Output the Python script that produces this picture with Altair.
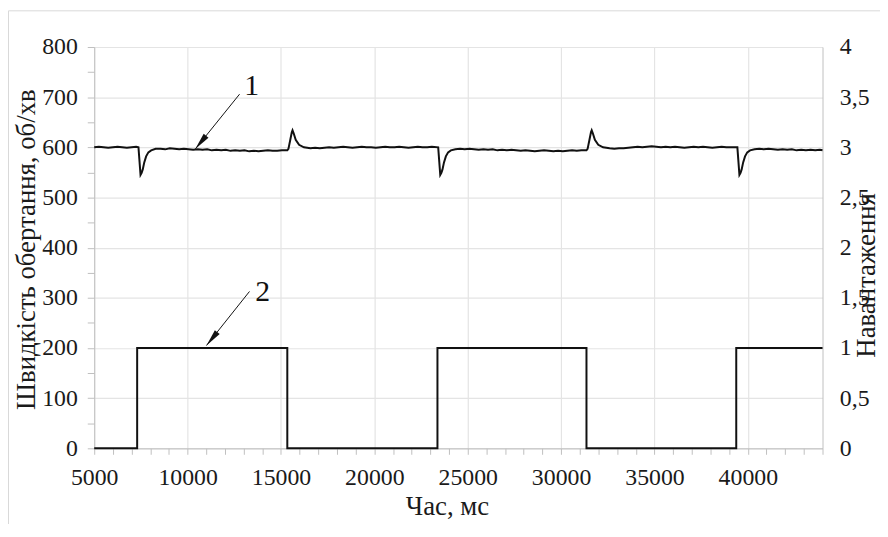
import altair as alt
import pandas as pd

# ---- speed curve (rpm) ----
speed_t = [
    5000, 5250, 5500, 5750, 6000, 6250, 6500, 6750, 7000, 7250, 7370,
    7420, 7480, 7540, 7600, 7680, 7780, 7900, 8050, 8290,
    8550, 8800, 9050, 9300, 9550, 9800, 10050, 10300, 10550, 10800, 11050, 11300,
    11550, 11800, 12050, 12300, 12550, 12800, 13050, 13300, 13550, 13800, 14050,
    14300, 14550, 14800, 15050, 15340,
    15400, 15500, 15580, 15620, 15680, 15790, 15970, 16230, 16580,
    16830, 17080, 17330, 17580, 17830, 18080, 18330, 18580, 18830, 19080, 19330,
    19580, 19830, 20080, 20330, 20580, 20830, 21080, 21330, 21580, 21830, 22080,
    22330, 22580, 22830, 23080, 23420,
    23470, 23530, 23590, 23650, 23730, 23830, 23950, 24100, 24340,
    24590, 24840, 25090, 25340, 25590, 25840, 26090, 26340, 26590, 26840, 27090,
    27340, 27590, 27840, 28090, 28340, 28590, 28840, 29090, 29340, 29590, 29840,
    30090, 30340, 30590, 30840, 31090, 31360,
    31420, 31520, 31600, 31640, 31700, 31810, 31990, 32250, 32600,
    32850, 33100, 33350, 33600, 33850, 34100, 34350, 34600, 34850, 35100, 35350,
    35600, 35850, 36100, 36350, 36600, 36850, 37100, 37350, 37600, 37850, 38100,
    38350, 38600, 38850, 39100, 39440,
    39490, 39550, 39610, 39670, 39750, 39850, 39970, 40120, 40360,
    40610, 40860, 41110, 41360, 41610, 41860, 42110, 42360, 42610, 42860, 43110,
    43360, 43610, 43860, 44000,
]
speed_v = [
    600, 601, 600, 599, 600, 601, 600, 599, 600, 601, 600,
    575, 545, 549, 556, 570, 582, 590, 594, 597,
    597, 596, 598, 597, 596, 597, 596, 595, 596, 595, 596, 594,
    595, 594, 595, 593, 594, 593, 594, 592, 593, 592, 593,
    594, 593, 593, 594, 594,
    597, 615, 630, 634, 628, 615, 605, 600, 598,
    599, 598, 599, 600, 599, 600, 601, 600, 599, 600, 601,
    600, 600, 599, 600, 601, 600, 600, 601, 600, 599, 600,
    601, 600, 600, 601, 600,
    575, 545, 549, 556, 570, 582, 590, 594, 596,
    597, 596, 597, 596, 595, 596, 595, 596, 594, 595, 594,
    595, 594, 593, 594, 593, 592, 593, 594, 593, 592, 593,
    592, 593, 594, 593, 594, 594,
    597, 615, 630, 634, 628, 615, 605, 600, 598,
    597, 598, 598, 599, 600, 601, 600, 601, 602, 601, 600,
    601, 600, 601, 600, 599, 600, 601, 600, 601, 600, 599,
    600, 601, 600, 600, 600,
    575, 545, 549, 556, 570, 582, 590, 594, 596,
    597, 596, 597, 596, 595, 596, 595, 596, 594, 595, 594,
    595, 594, 595, 594,
]

# ---- load (step signal) ----
load_t = [5000, 7300, 7300, 15340, 15340, 23380, 23380, 31360, 31360, 39380, 39380, 44000]
load_v = [0, 0, 1, 1, 0, 0, 1, 1, 0, 0, 1, 1]

# ---- axis ticks ----
x_ticks = list(range(5000, 44001, 1000))
left_ticks = list(range(0, 801, 50))
right_ticks = [0, 0.5, 1, 1.5, 2, 2.5, 3, 3.5, 4]

# ---- annotations ("1" -> speed, "2" -> load) ----
ann_label = ["1", "2"]
ann_t = [13437, 14020]
ann_v = [723, 312]
arrow_t_start = [12784, 13315]
arrow_v_start = [706, 312.7]
arrow_t_end = [10412, 11012]
arrow_v_end = [596.5, 205]

FONT = "Liberation Serif, Times New Roman, serif"
INK = "#111111"
GRID = "#e4e4e4"
AXC = "#bfbfbf"
TXT = "#1a1a1a"

speed_df = pd.DataFrame({"t": speed_t, "v": speed_v})
load_df = pd.DataFrame({"t": load_t, "v": load_v, "i": list(range(len(load_t)))})
text_df = pd.DataFrame({"t": ann_t, "v": ann_v, "label": ann_label})
arrow_df = pd.DataFrame({"t": arrow_t_start, "v": arrow_v_start,
                         "t2": arrow_t_end, "v2": arrow_v_end})
head_df = pd.DataFrame({"t": arrow_t_end, "v": arrow_v_end})

x_scale = alt.Scale(domain=[5000, 44000], nice=False, zero=False)
y_scale = alt.Scale(domain=[0, 800], nice=False)
r_scale = alt.Scale(domain=[0, 4], nice=False)

common = dict(labelFont=FONT, titleFont=FONT, labelFontSize=24, titleFontSize=27,
              labelColor=TXT, titleColor=TXT, titleFontWeight="normal",
              labelOverlap=False, labelFlush=False)

x_axis = alt.Axis(
    values=x_ticks, title="Час, мс",
    labelExpr="(datum.value % 5000 === 0 && datum.value <= 40000) ? '' + datum.value : ''",
    labelPadding=12,
    grid=True, gridColor=GRID, gridWidth=1.2,
    gridOpacity={"condition": {"test": "datum.value % 5000 === 0", "value": 1}, "value": 0},
    tickColor=AXC, tickSize=6, domainColor=AXC,
    titleX=356, titleY=59, titleBaseline="middle", titleAlign="center",
    **common,
)
y_axis = alt.Axis(
    values=left_ticks, title="Швидкість обертання, об/хв",
    labelExpr="datum.value % 100 === 0 ? '' + datum.value : ''",
    labelPadding=10,
    grid=True, gridColor=GRID, gridWidth=1.2,
    gridOpacity={"condition": {"test": "datum.value % 100 === 0", "value": 1}, "value": 0},
    tickColor=AXC, tickSize=7, domainColor=AXC,
    titleX=-68, titleY=204, titleAngle=270, titleAlign="center", titleBaseline="middle",
    **common,
)
r_axis = alt.Axis(
    values=right_ticks, title="Навантаження", orient="right",
    labelExpr="replace('' + datum.value, '.', ',')",
    labelPadding=17,
    grid=False, ticks=False, tickSize=0, domainColor=AXC,
    titleX=44, titleY=230, titleAngle=270, titleAlign="center", titleBaseline="middle",
    **common,
)

frame = alt.Chart(alt.Data(values=[{}])).mark_rect(
    filled=False, stroke="#d9d9d9", strokeWidth=1
).encode(
    x=alt.value(-86.5), x2=alt.value(800), y=alt.value(-36.5), y2=alt.value(500)
)

speed = alt.Chart(speed_df).mark_line(color=INK, strokeWidth=2, interpolate="linear").encode(
    x=alt.X("t:Q", scale=x_scale, axis=x_axis),
    y=alt.Y("v:Q", scale=y_scale, axis=y_axis),
)

arrows = alt.Chart(arrow_df).mark_rule(color=INK, strokeWidth=1).encode(
    x=alt.X("t:Q", scale=x_scale, axis=x_axis),
    y=alt.Y("v:Q", scale=y_scale, axis=y_axis),
    x2="t2:Q", y2="v2:Q",
)

heads = alt.Chart(head_df).mark_point(
    shape="M0,0L0.36,2L-0.36,2Z", filled=True, size=300, angle=219,
    color=INK, opacity=1, strokeWidth=0
).encode(
    x=alt.X("t:Q", scale=x_scale, axis=x_axis),
    y=alt.Y("v:Q", scale=y_scale, axis=y_axis),
)

labels = alt.Chart(text_df).mark_text(
    font=FONT, fontSize=30, color=INK, align="center", baseline="middle"
).encode(
    x=alt.X("t:Q", scale=x_scale, axis=x_axis),
    y=alt.Y("v:Q", scale=y_scale, axis=y_axis),
    text="label:N",
)

left_layer = alt.layer(frame, speed, arrows, heads, labels)

load = alt.Chart(load_df).mark_line(color=INK, strokeWidth=2).encode(
    x=alt.X("t:Q", scale=x_scale, axis=x_axis),
    y=alt.Y("v:Q", scale=r_scale, axis=r_axis),
    order="i:Q",
)

chart = alt.layer(left_layer, load).resolve_scale(y="independent").properties(
    width=735, height=405,
    autosize=alt.AutoSizeParams(type="none"),
    padding={"left": 87, "top": 37, "right": 58, "bottom": 74},
    background="white",
).configure_view(stroke=None).configure_axis(
    labelFont=FONT, titleFont=FONT, labelFontSize=24, titleFontSize=27,
    labelColor=TXT, titleColor=TXT, titleFontWeight="normal",
)

chart.save("out.html", embed_options={"renderer": "svg", "actions": False})
